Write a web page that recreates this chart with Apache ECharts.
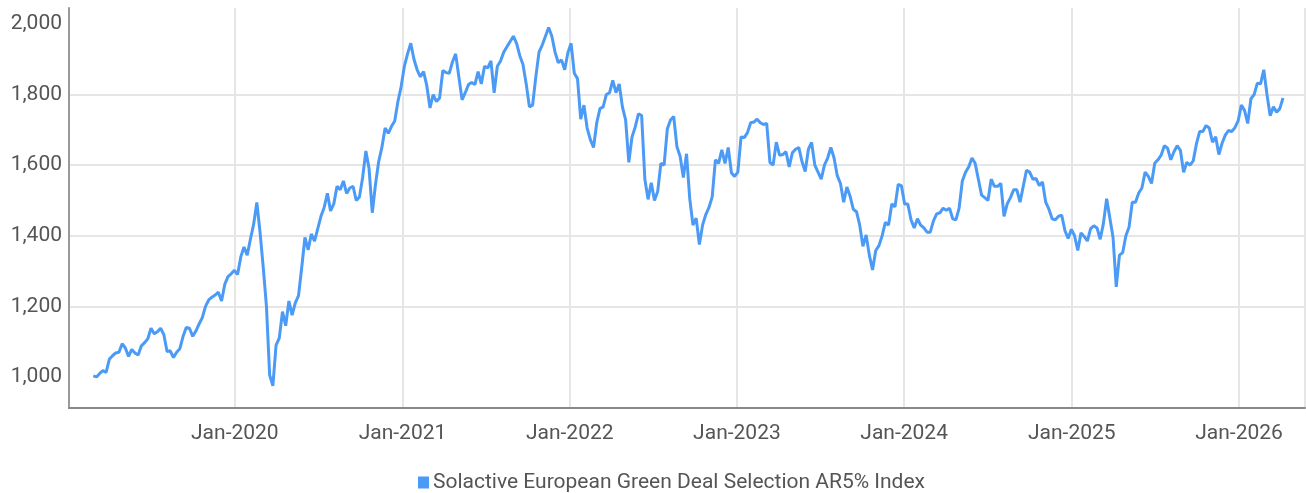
<!DOCTYPE html>
<html><head><meta charset="utf-8">
<script src="https://cdn.jsdelivr.net/npm/echarts@6/dist/echarts.min.js"></script>
<style>html,body{margin:0;padding:0;background:#fff}#c{width:1306px;height:493px}</style>
</head><body><div id="c"></div><script>
const seriesName = 'Solactive European Green Deal Selection AR5% Index';
const startDate = '2019-02-26';   // first weekly observation
const stepDays = 7;               // weekly observations
const values = [
1003,1000,1010,1018,1013,1050,1060,1068,1070,1094,
1082,1058,1078,1068,1062,1088,1097,1108,1138,1122,
1128,1138,1120,1072,1074,1055,1070,1080,1115,1140,
1138,1115,1130,1150,1168,1200,1218,1226,1232,1240,
1215,1262,1284,1292,1302,1290,1340,1368,
1345,1390,1432,1494,1410,1310,1200,1005,975,1090,
1110,1185,1145,1215,1175,1210,1230,1310,1395,1360,
1405,1385,1420,1455,1480,1520,1470,1490,1540,1530,
1555,1520,1535,1540,1500,1510,1565,1640,1590,1465,
1545,1610,1650,1705,1690,1710,1725,1780,1822,1880,
1915,1945,1900,1870,1850,1865,1825,1762,1800,1780,
1790,1868,1862,1860,1892,1915,1850,1785,1805,1828,
1834,1828,1865,1830,1880,1875,1895,1805,1880,1895,
1920,1935,1950,1965,1945,1910,1885,1830,1765,1770,
1850,1920,1940,1965,1990,1965,1920,1890,1898,1870,
1918,1945,1860,1845,1730,1770,1705,1672,1650,1720,
1760,1765,1800,1805,1840,1805,1830,1765,1728,1608,
1680,1708,1745,1740,1560,1503,1550,1500,1525,1605,
1600,1702,1728,1738,1652,1625,1565,1632,1505,1430,
1450,1375,1430,1460,1480,1510,1615,1605,1643,1605,
1650,1578,1568,1580,1680,1678,1692,1720,1722,1730,
1720,1715,1718,1608,1600,1665,1628,1630,1638,1595,
1635,1645,1650,1610,1582,1645,1664,1600,1580,1560,
1600,1620,1650,1620,1570,1548,1495,1538,1512,1475,
1468,1430,1370,1402,1345,1303,1358,1372,1400,1438,
1430,1490,1482,1545,1542,1490,1490,1445,1422,1448,
1430,1422,1410,1410,1442,1462,1465,1478,1472,1478,
1448,1445,1478,1555,1580,1595,1620,1605,1560,1515,
1508,1500,1560,1540,1540,1548,1455,1490,1508,1530,
1530,1495,1540,1585,1580,1560,1562,1542,1552,1495,
1475,1448,1445,1455,1458,1414,1392,1418,1400,1358,
1408,1398,1385,1420,1428,1422,1390,1435,1505,1450,
1395,1255,1345,1352,1400,1425,1495,1495,1521,1535,
1580,1568,1548,1605,1615,1628,1655,1648,1615,1638,
1655,1642,1580,1608,1600,1612,1660,1695,1695,1712,
1705,1665,1680,1630,1662,1685,1698,1695,1706,1725,
1770,1755,1718,1788,1800,1832,1830,1870,1800,1740,
1765,1750,1760,1790
];
const yTickValues = [1000, 1200, 1400, 1600, 1800, 2000];
const xMin = '2019-01-04';
const xMax = '2026-05-25';
const yMin = 912, yMax = 2045;

const t0 = new Date(startDate + 'T00:00:00Z').getTime();
const data = values.map((v, i) => [t0 + i * stepDays * 86400000, v]);

const FONT = 'Roboto, "Noto Sans", sans-serif';
const chart = echarts.init(document.getElementById('c'), null, {renderer: 'canvas'});
const YEAR = 365.25 * 86400000;
chart.setOption({
  animation: false,
  backgroundColor: '#ffffff',
  grid: {left: 69, right: 1, top: 8, bottom: 85, containLabel: false},
  legend: {
    show: true, left: 413, top: 467,
    icon: 'rect', itemWidth: 11, itemHeight: 12, itemGap: 5,
    textStyle: {fontFamily: FONT, fontSize: 21, color: '#555', padding: [0,0,0,-1]},
    data: [seriesName]
  },
  xAxis: {
    type: 'time',
    min: xMin, max: xMax,
    minInterval: YEAR, maxInterval: YEAR,
    axisLine: {show: true, lineStyle: {color: '#888', width: 2}},
    axisTick: {show: false},
    splitLine: {show: true, lineStyle: {color: '#e6e6e6', width: 2}},
    axisLabel: {
      formatter: '{MMM}-{yyyy}', showMinLabel: false, showMaxLabel: false,
      fontFamily: FONT, fontSize: 21, color: '#555', margin: 15
    }
  },
  yAxis: {
    type: 'value', min: yMin, max: yMax,
    axisLine: {show: true, lineStyle: {color: '#999', width: 2}},
    axisTick: {show: false, customValues: yTickValues},
    splitLine: {show: true, showMinLine: false, showMaxLine: false, lineStyle: {color: '#e6e6e6', width: 2}},
    axisLabel: {
      customValues: yTickValues,
      formatter: v => v.toLocaleString('en-US'),
      fontFamily: FONT, fontSize: 21, color: '#555', margin: 7
    }
  },
  series: [{
    name: seriesName, type: 'line', data: data,
    showSymbol: false, symbol: 'none',
    lineStyle: {color: '#4b9bf6', width: 3},
    itemStyle: {color: '#4b9bf6'}
  }]
});
</script></body></html>
